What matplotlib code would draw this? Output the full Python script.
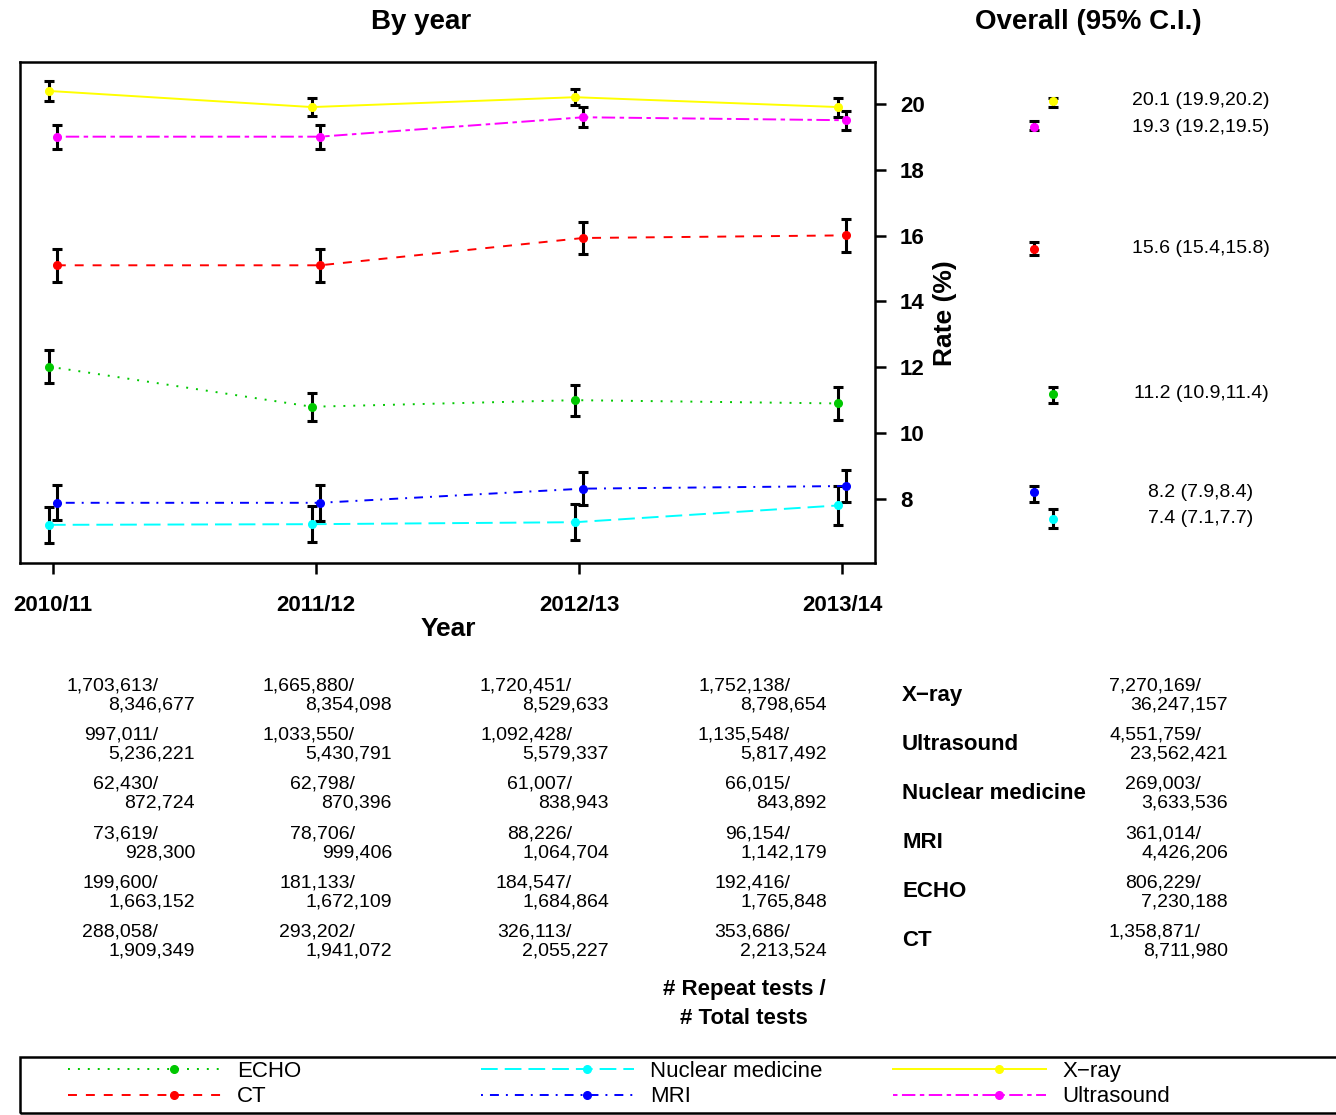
import matplotlib
matplotlib.use('Agg')
import matplotlib.pyplot as plt
from matplotlib.legend_handler import HandlerLine2DCompound
from matplotlib.lines import Line2D
from matplotlib.patches import Rectangle

plt.rcParams['font.family'] = ['Liberation Sans', 'DejaVu Sans']

years = ['2010/11', '2011/12', '2012/13', '2013/14']
modalities = ['X\u2212ray', 'Ultrasound', 'Nuclear medicine', 'MRI', 'ECHO', 'CT']

# yearly rates (%) and half-width of the 95% C.I.
rate_xray = [20.40, 19.91, 20.21, 19.91]
ci_xray = [0.30, 0.27, 0.24, 0.29]
rate_us = [19.01, 19.01, 19.60, 19.51]
ci_us = [0.36, 0.36, 0.31, 0.29]
rate_nm = [7.21, 7.23, 7.29, 7.80]
ci_nm = [0.54, 0.54, 0.54, 0.60]
rate_mri = [7.88, 7.88, 8.31, 8.39]
ci_mri = [0.53, 0.55, 0.50, 0.50]
rate_echo = [12.02, 10.80, 11.00, 10.90]
ci_echo = [0.50, 0.43, 0.47, 0.49]
rate_ct = [15.10, 15.10, 15.93, 16.01]
ci_ct = [0.50, 0.50, 0.50, 0.50]

# overall rate with 95% C.I. (same order as modalities)
overall_rate = [20.1, 19.3, 7.4, 8.2, 11.2, 15.6]
overall_lo = [19.9, 19.2, 7.1, 7.9, 10.9, 15.4]
overall_hi = [20.2, 19.5, 7.7, 8.4, 11.4, 15.8]

# repeat tests / total tests
xray_repeat = [1703613, 1665880, 1720451, 1752138]
xray_total = [8346677, 8354098, 8529633, 8798654]
us_repeat = [997011, 1033550, 1092428, 1135548]
us_total = [5236221, 5430791, 5579337, 5817492]
nm_repeat = [62430, 62798, 61007, 66015]
nm_total = [872724, 870396, 838943, 843892]
mri_repeat = [73619, 78706, 88226, 96154]
mri_total = [928300, 999406, 1064704, 1142179]
echo_repeat = [199600, 181133, 184547, 192416]
echo_total = [1663152, 1672109, 1684864, 1765848]
ct_repeat = [288058, 293202, 326113, 353686]
ct_total = [1909349, 1941072, 2055227, 2213524]
overall_repeat = [7270169, 4551759, 269003, 361014, 806229, 1358871]
overall_total = [36247157, 23562421, 3633536, 4426206, 7230188, 8711980]

rates = [rate_xray, rate_us, rate_nm, rate_mri, rate_echo, rate_ct]
cis = [ci_xray, ci_us, ci_nm, ci_mri, ci_echo, ci_ct]
repeats = [xray_repeat, us_repeat, nm_repeat, mri_repeat, echo_repeat, ct_repeat]
totals = [xray_total, us_total, nm_total, mri_total, echo_total, ct_total]

colors = ['#FFFF00', '#FF00FF', '#00FFFF', '#0000FF', '#00C800', '#FF0000']
dashes = [(None, None), (2.3, 2.3, 6.9, 2.3), (8.6, 3.6), (1.0, 3.6, 4.6, 3.6),
          (1.0, 4.1), (4.6, 4.6)]
jitter = [-0.015, 0.015, -0.015, 0.015, -0.015, 0.015]

W, H = 1336, 1115


def fx(x):
    return x / W


def fy(y):
    return 1 - y / H


fig = plt.figure(figsize=(W / 100, H / 100), dpi=100)

# ---- by year panel
ax = fig.add_axes([fx(20), fy(563), 855 / W, 501 / H])
lw = 1.4
handles = []
for i, name in enumerate(modalities):
    xs = [j + jitter[i] for j in range(len(years))]
    ax.errorbar(xs, rates[i], yerr=cis[i], fmt='none', ecolor='black',
                elinewidth=2.2, capsize=3.5, capthick=2.2, zorder=2)
    ln, = ax.plot(xs, rates[i], color=colors[i], lw=lw, marker='o', ms=5.5,
                  zorder=3)
    if dashes[i][0] is not None:
        ln.set_dashes(dashes[i])
    handles.append(ln)

ax.set_xlim(-0.125, 3.125)
ax.set_ylim(6.05, 21.28)
ax.set_xticks(range(len(years)))
ax.set_xticklabels(years, fontsize=16, fontweight='bold')
ax.yaxis.tick_right()
ax.set_yticks([8, 10, 12, 14, 16, 18, 20])
ax.set_yticklabels(['8', '10', '12', '14', '16', '18', '20'], fontsize=16,
                   fontweight='bold')
ax.tick_params(axis='both', length=8, width=1.8, direction='out')
ax.tick_params(axis='x', pad=15)
ax.tick_params(axis='y', pad=10)
for s in ax.spines.values():
    s.set_linewidth(1.8)

fig.text(fx(421), fy(22), 'By year', fontsize=20, fontweight='bold',
         ha='center', va='center')
fig.text(fx(1088), fy(22), 'Overall (95% C.I.)', fontsize=20,
         fontweight='bold', ha='center', va='center')
fig.text(fx(448), fy(629), 'Year', fontsize=19, fontweight='bold',
         ha='center', va='center')
fig.text(fx(945), fy(313), 'Rate (%)', fontsize=19, fontweight='bold',
         ha='center', va='center', rotation=90)

# ---- overall panel
ax2 = fig.add_axes([fx(1000), fy(563), 300 / W, 501 / H])
ax2.set_xlim(-0.145, 0.855)
ax2.set_ylim(ax.get_ylim())
ax2.axis('off')
for i, name in enumerate(modalities):
    x = -2 * jitter[i] * 1.07
    lo = overall_rate[i] - overall_lo[i]
    hi = overall_hi[i] - overall_rate[i]
    ax2.errorbar([x], [overall_rate[i]], yerr=[[lo], [hi]], fmt='none',
                 ecolor='black', elinewidth=2.2, capsize=3.5, capthick=2.2)
    ax2.plot([x], [overall_rate[i]], 'o', color=colors[i], ms=5.5)
    ax2.text(0.525, overall_rate[i],
             f'{overall_rate[i]} ({overall_lo[i]},{overall_hi[i]})',
             fontsize=14, ha='center', va='center')

# ---- counts table
num_right = [158, 355, 572, 790]
den_right = [195, 392, 609, 827]
for i, name in enumerate(modalities):
    y0 = 686 + i * 49.2
    for j in range(len(years)):
        fig.text(fx(num_right[j]), fy(y0), f'{repeats[i][j]:,}/', fontsize=14,
                 ha='right', va='center')
        fig.text(fx(den_right[j]), fy(y0 + 19), f'{totals[i][j]:,}',
                 fontsize=14, ha='right', va='center')
    fig.text(fx(902), fy(y0 + 9), name, fontsize=16, fontweight='bold',
             ha='left', va='center')
    fig.text(fx(1201), fy(y0), f'{overall_repeat[i]:,}/', fontsize=14,
             ha='right', va='center')
    fig.text(fx(1228), fy(y0 + 19), f'{overall_total[i]:,}', fontsize=14,
             ha='right', va='center')

fig.text(fx(744), fy(989), '# Repeat tests /', fontsize=16, fontweight='bold',
         ha='center', va='center')
fig.text(fx(744), fy(1018), '# Total tests', fontsize=16, fontweight='bold',
         ha='center', va='center')


# ---- legend
class MarkerRight(HandlerLine2DCompound):
    def get_xdata(self, legend, xdescent, ydescent, width, height, fontsize):
        x0 = -xdescent
        x1 = -xdescent + width
        return [x0, x1], [x0 + 0.69 * (x1 - x0)]


fig.patches.append(Rectangle((fx(20), fy(1113)), fx(1330), 56 / H,
                             transform=fig.transFigure, fill=False,
                             edgecolor='black', lw=1.8))
order = [[4, 5], [2, 3], [0, 1]]
col_x = [68, 481, 893]
for c in range(3):
    hs = [handles[k] for k in order[c]]
    labs = [modalities[k] for k in order[c]]
    leg = fig.legend(hs, labs, loc='upper left',
                     bbox_to_anchor=(fx(col_x[c]), fy(1061)),
                     frameon=False, fontsize=16, handlelength=6.9,
                     handletextpad=0.72, borderpad=0, borderaxespad=0,
                     labelspacing=0.2, numpoints=2,
                     handler_map={Line2D: MarkerRight()})

fig.savefig('out.png', dpi=100)
